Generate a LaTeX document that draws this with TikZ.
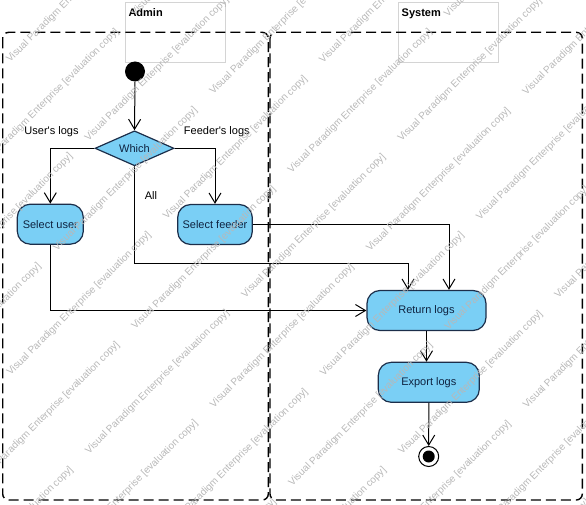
\documentclass[tikz,border=0pt]{standalone}
\usepackage{fontspec}
\setmainfont{Liberation Sans}
\usetikzlibrary{arrows.meta,shapes.geometric}
\definecolor{actfill}{HTML}{7ACFF5}
\definecolor{actline}{HTML}{1C2E4A}
\definecolor{acttext}{HTML}{0F2340}
\definecolor{hdrline}{HTML}{D4D4D4}
\definecolor{wmgray}{HTML}{B8B8B8}
\begin{document}
\begin{tikzpicture}[x=1pt,y=-1pt,
  every node/.style={font=\fontsize{11}{13}\selectfont},
  act/.style={draw=actline, line width=1.2pt, fill=actfill, rounded corners=13pt, text=acttext, inner sep=0pt, minimum height=40pt},
  dec/.style={diamond, draw=actline, line width=1.2pt, fill=actfill, text=acttext, inner sep=0pt, aspect=2.2, minimum width=79pt, minimum height=35pt},
  lane/.style={draw=black, line width=1.4pt, dash pattern=on 10pt off 5pt, rounded corners=6pt},
  hdr/.style={draw=hdrline, line width=0.8pt, inner sep=0pt, minimum width=100pt, minimum height=60pt, anchor=north west},
  flow/.style={draw=black, line width=1pt, -{Straight Barb[length=10pt,width=12pt,line width=1pt]}},
  lbl/.style={anchor=base, inner sep=0pt},
  ttl/.style={anchor=base west, inner sep=0pt, font=\fontsize{11}{13}\selectfont\bfseries},
  wm/.style={anchor=base west, rotate=45, inner sep=0pt, text=wmgray, font=\fontsize{10}{12}\selectfont}
]
\useasboundingbox (0,0) rectangle (586,505);
% partition headers
\node[hdr] (hadmin) at (125.3,2.3) {};
\node[hdr] (hsystem) at (398.3,2.3) {};
\node[ttl] (tadmin) at (128.3,17) {Admin};
\node[ttl] (tsystem) at (401.5,17) {System};
% lanes
\draw[lane] (2.7,32.3) rectangle (268.3,500);
\draw[lane] (270,32.3) rectangle (582.3,500);
% nodes
\node[circle, fill=black, minimum size=20pt, inner sep=0pt] (init) at (135,71.5) {};
\node[dec] (which) at (134.5,148.3) {Which};
\node[act, minimum width=66pt] (suser) at (50.3,224.2) {Select user};
\node[act, minimum width=74.6pt] (sfeeder) at (215,224.5) {Select feeder};
\node[act, minimum width=119pt] (rlogs) at (426.5,310.5) {Return logs};
\node[act, minimum width=101pt] (elogs) at (428.8,382.3) {Export logs};
\node[circle, draw=black, fill=white, line width=1pt, minimum size=20pt, inner sep=0pt] (final) at (428.7,456.5) {};
\node[circle, fill=black, minimum size=12pt, inner sep=0pt] (finaldot) at (final) {};
% connectors
\coordinate (allc) at (408,263);
\coordinate (fdc) at (449,224.5);
\draw[flow] (init.south) -- (which.north);
\draw[flow] (which.west) -| (suser.north);
\draw[flow] (which.east) -| (sfeeder.north);
\draw[flow] (which.south) |- (allc) -- (allc |- rlogs.north);
\draw[flow] (sfeeder.east) -- (fdc) -- (fdc |- rlogs.north);
\draw[flow] (suser.south) |- (rlogs.west);
\draw[flow] (rlogs.south) -- (rlogs.south |- elogs.north);
\draw[flow] (elogs.south) -- (final.north);
% labels
\node[lbl] (lusr) at (51.5,135) {User\textquotesingle s logs};
\node[lbl] (lfdr) at (216.8,135) {Feeder\textquotesingle s logs};
\node[lbl] (lall) at (151,200) {All};
% watermark
\begin{scope}
\clip (0,0) rectangle (586,505);
\foreach \k in {0,...,14}{
  \foreach \m in {-3,...,2}{
    \pgfmathsetmacro{\wmn}{-3.85+55.45*\k}
    \pgfmathsetmacro{\wmt}{(mod(\k,2)==1 ? -37.5 : 83.5) + 221*\m}
    \pgfmathsetmacro{\wmx}{(\wmt+\wmn)*0.70711}
    \pgfmathsetmacro{\wmy}{(\wmn-\wmt)*0.70711}
    \node[wm] (wm-\k-\m) at (\wmx,\wmy) {Visual Paradigm Enterprise [evaluation copy]};
  }
}
\end{scope}
\end{tikzpicture}
\end{document}
